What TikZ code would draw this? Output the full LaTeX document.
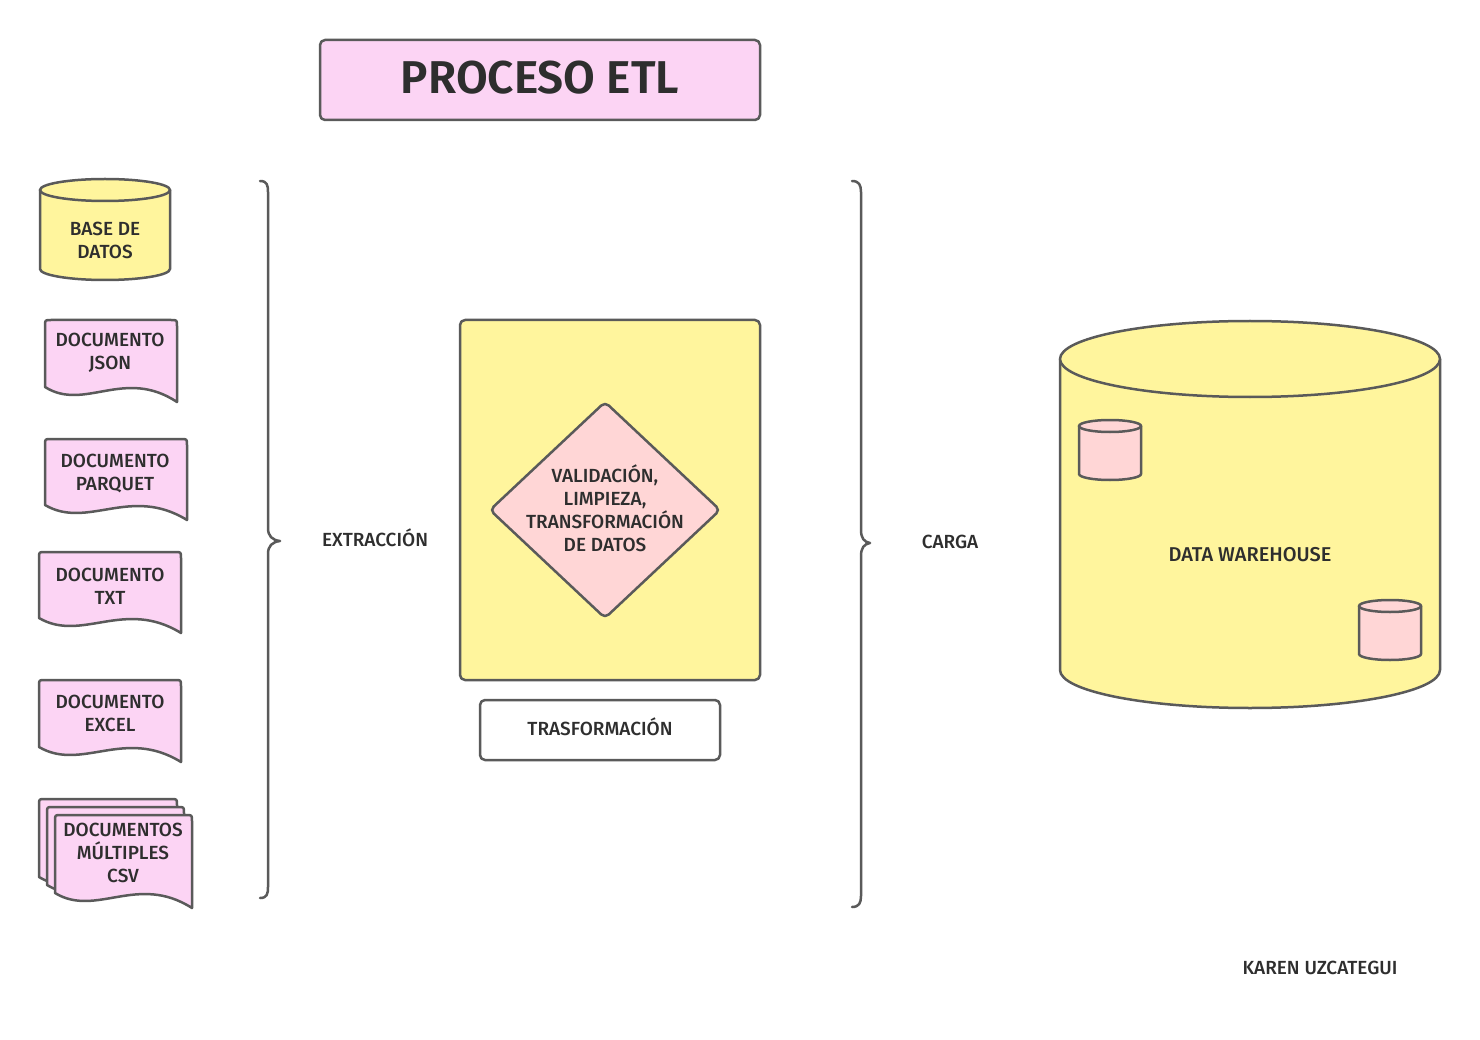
\documentclass[tikz,border=0pt]{standalone}
\usepackage{fontspec}
\setmainfont{Fira Sans}[UprightFont={* Medium}, BoldFont={* SemiBold}]
\definecolor{ln}{HTML}{5A5A5A}
\definecolor{yel}{HTML}{FFF59D}
\definecolor{pnk}{HTML}{FCD4F4}
\definecolor{rose}{HTML}{FFD6D6}
\definecolor{txt}{HTML}{2E2E2E}
\tikzset{
  outl/.style={draw=ln, line width=2.5pt, line join=round, line cap=round},
  lbl/.style={font=\fontsize{19}{23}\selectfont, text=txt, align=center, inner sep=0pt},
  boxshape/.style={outl, rectangle, rounded corners=5pt, inner sep=0pt},
}
% document shape: x0, y0 (top), x1, yb (bottom right), fill
\newcommand\mydoc[5]{%
  \pgfmathsetmacro\dw{#3-#1}%
  \filldraw[outl, fill=#5] (#1,#4-15) -- (#1,#2+6) .. controls (#1,#2) .. (#1+6,#2)
    -- (#3-6,#2) .. controls (#3,#2) .. (#3,#2+6) -- (#3,#4)
    .. controls (#1+0.6*\dw,#4-35) and (#1+0.3*\dw,#4+10) .. (#1,#4-15) -- cycle;}
% cylinder: x0, x1, ytop, ybottom, ry, fill
\newcommand\mycyl[6]{%
  \pgfmathsetmacro\cx{(#1+#2)/2}\pgfmathsetmacro\crx{(#2-#1)/2}%
  \filldraw[outl, fill=#6] (#1,#3) -- (#1,#4)
    arc[start angle=180, end angle=0, x radius=\crx, y radius=#5] -- (#2,#3) -- cycle;
  \filldraw[outl, fill=#6] (\cx,#3) ellipse[x radius=\crx, y radius=#5];}
\begin{document}
\begin{tikzpicture}[x=1pt,y=-1pt]
\useasboundingbox[fill=white] (0,0) rectangle (1480,1040);

% title
\node[boxshape, fill=pnk, minimum width=440pt, minimum height=80pt] (titlebox) at (540,80) {};
\node[lbl, font=\fontsize{46}{50}\selectfont\bfseries] (title) at (540,78) {PROCESO ETL};

% sources
\mycyl{40}{170}{190}{269}{11}{yel}
\node[lbl] (db) at (105,240) {BASE DE\\DATOS};

\mydoc{45}{320}{177}{402}{pnk}
\node[lbl] (json) at (110,353) {DOCUMENTO\\JSON};

\mydoc{45}{439}{187}{520}{pnk}
\node[lbl] (parquet) at (115,473) {DOCUMENTO\\PARQUET};

\mydoc{39}{552}{181}{633}{pnk}
\node[lbl] (txt) at (110,586) {DOCUMENTO\\TXT};

\mydoc{39}{680}{181}{762}{pnk}
\node[lbl] (excel) at (110,713) {DOCUMENTO\\EXCEL};

\mydoc{39}{799}{177}{892}{pnk}
\mydoc{47}{807}{184}{900}{pnk}
\mydoc{55}{815}{192}{908}{pnk}
\node[lbl] (csv) at (123,853) {DOCUMENTOS\\MÚLTIPLES\\CSV};

% left brace
\draw[outl] (260,181) .. controls (267,181) and (268,185) .. (268,192) -- (268,528)
  .. controls (268,536) and (272,540) .. (280,541) .. controls (272,542) and (268,546) .. (268,554)
  -- (268,887) .. controls (268,894) and (267,898) .. (260,898);
\node[lbl] (extr) at (375,538) {EXTRACCIÓN};

% transformation
\node[boxshape, fill=yel, minimum width=300pt, minimum height=360pt] (trbox) at (610,500) {};
\filldraw[outl, fill=rose, rounded corners=5pt] (605,402) -- (720,510) -- (605,618) -- (490,510) -- cycle;
\node[lbl] (diamondtext) at (605,508) {VALIDACIÓN,\\LIMPIEZA,\\TRANSFORMACIÓN\\DE DATOS};
\node[boxshape, fill=white, minimum width=240pt, minimum height=60pt] (trlabelbox) at (600,730) {};
\node[lbl] (trlabel) at (600,727) {TRASFORMACIÓN};

% right brace
\draw[outl] (852,181) .. controls (859,181) and (861,185) .. (861,192) -- (861,530)
  .. controls (861,538) and (864,542) .. (870,543) .. controls (864,544) and (861,548) .. (861,556)
  -- (861,896) .. controls (861,903) and (859,907) .. (852,907);
\node[lbl] (carga) at (950,542) {CARGA};

% data warehouse
\mycyl{1060}{1440}{359}{670}{38}{yel}
\mycyl{1079}{1141}{426}{474}{6}{rose}
\mycyl{1359}{1421}{606}{654}{6}{rose}
\node[lbl, font=\fontsize{20}{24}\selectfont] (dw) at (1250,555) {DATA WAREHOUSE};

\node[lbl, font=\fontsize{19}{23}\selectfont] (author) at (1320,968) {KAREN UZCATEGUI};
\end{tikzpicture}
\end{document}
